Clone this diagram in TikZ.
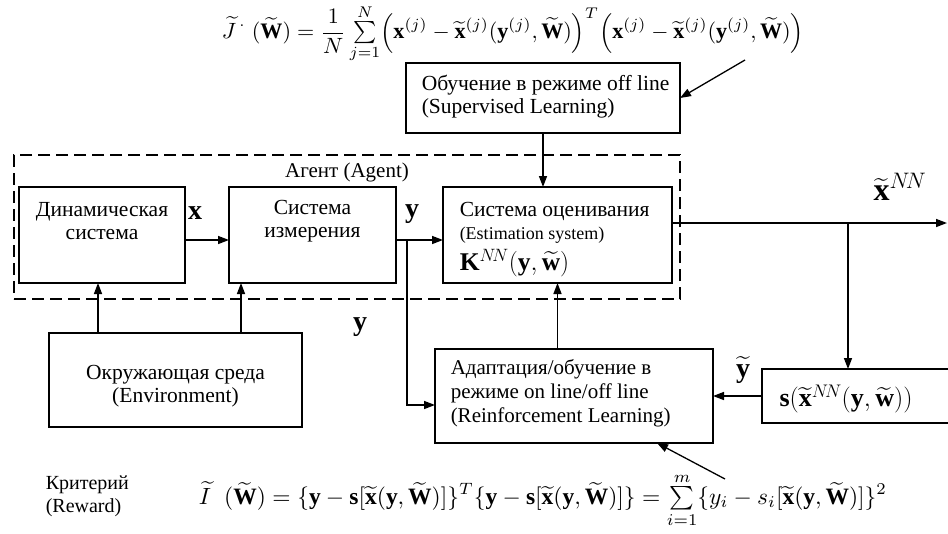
\RequirePackage{fix-cm}
\documentclass[tikz,border=0pt]{standalone}
\usepackage{amsmath}
\usepackage{graphicx}
\usepackage{fontspec}
\setmainfont{Liberation Serif}
\usetikzlibrary{arrows.meta}
\newcommand{\smallsum}{\mathop{\textstyle\sum}\limits}
\begin{document}
\begin{tikzpicture}[x=1pt,y=-1pt,
  line width=1.5pt,
  box/.style={draw, line width=1.5pt, inner sep=0pt, outer sep=0pt},
  arr/.style={-{Triangle[length=11pt,width=8pt]}},
  txt/.style={font=\fontsize{21.5}{23}\selectfont, align=center, inner sep=0pt},
  txtl/.style={font=\fontsize{21.5}{23}\selectfont, align=left, inner sep=0pt, anchor=west},
  sym/.style={font=\fontsize{28}{28}\selectfont, inner sep=0pt}]
\useasboundingbox (0,0) rectangle (948,533);

% agent dashed region
\node[draw, dash pattern=on 12pt off 6pt, line width=1.3pt, inner sep=0pt,
      minimum width=666pt, minimum height=144pt] (agentbox) at (347,227) {};
\node[txt, font=\fontsize{21}{23}\selectfont] (agentlbl) at (347,172) {Агент (Agent)};

% boxes
\node[box, minimum width=166pt, minimum height=96pt] (dyn) at (102,235) {};
\node[box, minimum width=167pt, minimum height=96pt] (meas) at (312.5,235) {};
\node[box, minimum width=229pt, minimum height=96pt] (est) at (557.5,235) {};
\node[box, minimum width=274pt, minimum height=70pt] (sup) at (543,98) {};
\node[box, minimum width=253pt, minimum height=94pt] (env) at (175.5,380) {};
\node[box, minimum width=278pt, minimum height=94pt] (adapt) at (574,396) {};
\node[box, minimum width=200pt, minimum height=54pt] (sbox) at (862,396) {};

% box texts
\node[txt] (dynt) at (102,221.5) {Динамическая\\система};
\node[txt] (meast) at (312.5,221.5) {Система\\измерения};
\node[txtl] (estt1) at (459,211) {Система оценивания};
\node[txtl, font=\fontsize{18}{20}\selectfont] (estt2) at (459,235) {(Estimation system)};
\node[txtl, font=\fontsize{25.5}{25.5}\selectfont] (estt3) at (459,263)
   {$\mathbf{K}^{N\!N}(\mathbf{y},\widetilde{\mathbf{w}})$};
\node[txtl] (supt) at (421,96.5) {Обучение в режиме off line\\(Supervised Learning)};
\node[txt] (envt) at (175.5,386) {Окружающая среда\\(Environment)};
\node[txtl, font=\fontsize{21}{24}\selectfont] (adaptt) at (450,393)
   {Адаптация/обучение в\\режиме on line/off line\\(Reinforcement Learning)};
\node[txt, font=\fontsize{26}{26}\selectfont] (st) at (846,399)
   {$\mathbf{s}(\widetilde{\mathbf{x}}^{N\!N}(\mathbf{y},\widetilde{\mathbf{w}}))$};

% signal labels
\node[sym] (xlbl) at (195,213) {$\mathbf{x}$};
\node[sym] (ylbl) at (412,214) {$\mathbf{y}$};
\node[sym] (ylbl2) at (360,327) {$\mathbf{y}$};
\node[sym] (ytl) at (743,370) {$\widetilde{\mathbf{y}}$};
\node[sym, font=\fontsize{32}{32}\selectfont] (xnnl) at (900,187) {$\widetilde{\mathbf{x}}^{N\!N}$};

% formulas
\node[inner sep=0pt] (topf) at (513,34) {\resizebox{582pt}{!}{$\displaystyle
  \widetilde{J}^{\,\cdot}\;(\widetilde{\mathbf{W}}) = \frac{1}{N}\smallsum_{j=1}^{N}
  \Bigl(\mathbf{x}^{(j)} - \widetilde{\mathbf{x}}^{(j)}(\mathbf{y}^{(j)},\widetilde{\mathbf{W}})\Bigr)^{T}
  \Bigl(\mathbf{x}^{(j)} - \widetilde{\mathbf{x}}^{(j)}(\mathbf{y}^{(j)},\widetilde{\mathbf{W}})\Bigr)$}};
\node[inner sep=0pt] (botf) at (543,500) {\resizebox{688pt}{!}{$\displaystyle
  \widetilde{I}\;\;(\widetilde{\mathbf{W}}) = \{\mathbf{y} - \mathbf{s}[\widetilde{\mathbf{x}}(\mathbf{y},\widetilde{\mathbf{W}})]\}^{T}
  \{\mathbf{y} - \mathbf{s}[\widetilde{\mathbf{x}}(\mathbf{y},\widetilde{\mathbf{W}})]\}
  = \smallsum_{i=1}^{m}\{y_i - s_i[\widetilde{\mathbf{x}}(\mathbf{y},\widetilde{\mathbf{W}})]\}^{2}$}};
\node[txtl, font=\fontsize{20}{23}\selectfont] (crit) at (45,496) {Критерий\\(Reward)};

% coordinates
\coordinate (ybr) at (407,240);
\coordinate (split) at (848,223);
\coordinate (outend) at (947,223);
\coordinate (topsrc) at (745,60);
\coordinate (botsrc) at (725,479);

% connectors
\draw[arr] ([yshift=-5pt]dyn.east) -- ([yshift=-5pt]meas.west);
\draw[arr] ([yshift=-5pt]meas.east) -- ([yshift=-5pt]est.west);
\draw[arr] (ybr) -- ([yshift=-9pt]ybr |- adapt.west) -- ([yshift=-9pt]adapt.west);
\draw[arr] (sup.south) -- (sup.south |- est.north);
\draw[arr] (est.south |- adapt.north) -- (est.south);
\draw[arr] ([xshift=-4pt]dyn.south |- env.north) -- ([xshift=-4pt]dyn.south);
\draw[arr] ([xshift=-71.5pt]meas.south |- env.north) -- ([xshift=-71.5pt]meas.south);
\draw[arr] (est.east |- split) -- (outend);
\draw[arr] (split) -- (split |- sbox.north);
\draw[arr] (sbox.west) -- (sbox.west -| adapt.east);
\draw[arr, line width=1.3pt] (topsrc) -- (sup.east);
\draw[arr, line width=1.3pt] (botsrc) -- ([xshift=83pt]adapt.south);
\end{tikzpicture}
\end{document}
